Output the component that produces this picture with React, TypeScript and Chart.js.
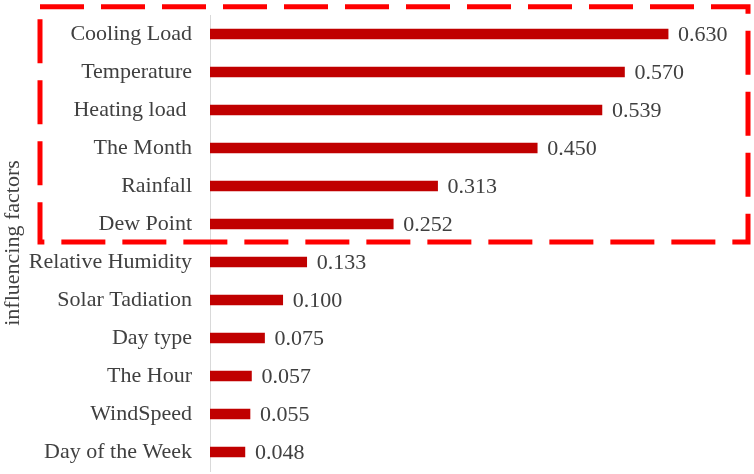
import React, { useEffect, useRef } from "react";
import { Chart, registerables } from "chart.js";

Chart.register(...registerables);

const categories = [
  "Cooling Load",
  "Temperature",
  "Heating load ",
  "The Month",
  "Rainfall",
  "Dew Point",
  "Relative Humidity",
  "Solar Tadiation",
  "Day type",
  "The Hour",
  "WindSpeed",
  "Day of the Week",
];

const values = [0.63, 0.57, 0.539, 0.45, 0.313, 0.252, 0.133, 0.1, 0.075, 0.057, 0.055, 0.048];

const highlightedCount = 6;
const axisTitle = "influencing factors";

const FONT = "'Liberation Serif', 'Times New Roman', serif";
const TEXT = "#404040";

const valueLabels = {
  id: "valueLabels",
  afterDatasetsDraw(chart: any) {
    const ctx = chart.ctx;
    const meta = chart.getDatasetMeta(0);
    ctx.save();
    ctx.font = `22px ${FONT}`;
    ctx.fillStyle = TEXT;
    ctx.textAlign = "left";
    ctx.textBaseline = "middle";
    meta.data.forEach((bar: any, i: number) => {
      ctx.fillText(values[i].toFixed(3), bar.x + 10, bar.y + 1);
    });
    ctx.restore();
  },
};

const dashedBox = {
  id: "dashedBox",
  afterDraw(chart: any) {
    const ctx = chart.ctx;
    const y = chart.scales.y;
    const step = y.getPixelForValue(1) - y.getPixelForValue(0);
    const top = y.getPixelForValue(0) - step * 0.72;
    const bottom = (y.getPixelForValue(highlightedCount - 1) + y.getPixelForValue(highlightedCount)) / 2 - 1;
    const left = 40;
    const right = chart.width - 6;
    ctx.save();
    ctx.strokeStyle = "#FF0000";
    ctx.lineWidth = 5;
    ctx.setLineDash([44, 17]);
    ctx.strokeRect(left, top, right - left, bottom - top);
    ctx.restore();
  },
};

export default function App() {
  const ref = useRef<HTMLCanvasElement>(null);

  useEffect(() => {
    if (!ref.current) return;
    const chart = new Chart(ref.current, {
      type: "bar",
      data: {
        labels: categories,
        datasets: [
          {
            data: values,
            backgroundColor: "#C00000",
            barThickness: 10,
          },
        ],
      },
      options: {
        indexAxis: "y",
        animation: false,
        responsive: false,
        layout: { padding: { top: 15, bottom: 3, right: 35, left: 0 } },
        plugins: {
          legend: { display: false },
          tooltip: { enabled: false },
        },
        scales: {
          x: { display: false, min: 0, max: 0.7 },
          y: {
            afterFit(scale: any) {
              scale.width = 210;
              scale.paddingTop = 0;
              scale.paddingBottom = 0;
            },
            grid: { display: false, drawTicks: false },
            border: { display: true, color: "#d9d9d9", width: 1 },
            ticks: {
              padding: 18,
              color: TEXT,
              font: { family: FONT, size: 22 },
            },
            title: {
              display: true,
              text: axisTitle,
              color: TEXT,
              font: { family: FONT, size: 22 },
              padding: { top: 0, bottom: 0 },
            },
          },
        },
      },
      plugins: [valueLabels, dashedBox],
    });
    return () => chart.destroy();
  }, []);

  return (
    <div style={{ position: "absolute", left: 0, top: 0, width: 754, height: 474, background: "#fff" }}>
      <canvas ref={ref} width={754} height={474} style={{ display: "block" }} />
    </div>
  );
}
